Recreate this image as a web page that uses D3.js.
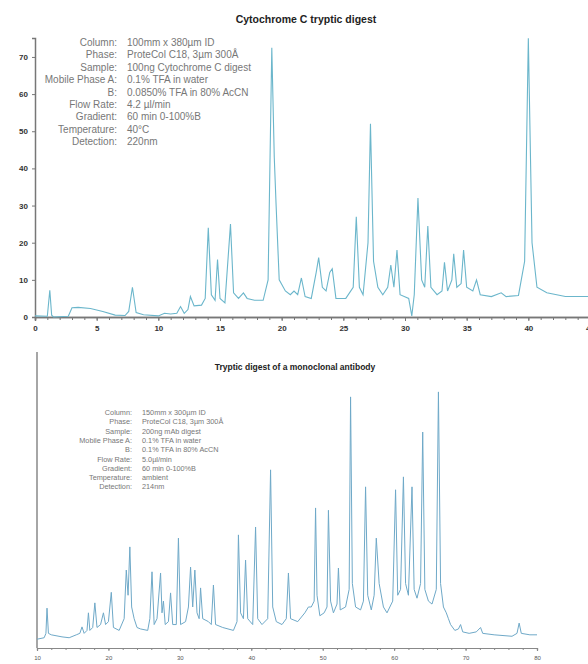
<!DOCTYPE html>
<html>
<head>
<meta charset="utf-8">
<script src="https://cdn.jsdelivr.net/npm/d3@7"></script>
<style>
  body { margin: 0; background: #fff; }
  svg { display: block; font-family: Arial, "Liberation Sans", sans-serif; }
</style>
</head>
<body>
<div id="chart"></div>
<script>
// ---- top chromatogram: Cytochrome C tryptic digest (time in min, signal) ----
const topTitle = "Cytochrome C tryptic digest";
const topTime = [0, 1.0, 1.2, 1.35, 1.5, 2.7, 3.0, 3.5, 4.5, 5.5, 6.5, 7.3, 7.6, 7.9, 8.2, 8.8, 10.0, 10.5, 11.0, 11.5,
  11.8, 12.1, 12.4, 12.6, 12.9, 13.5, 13.8, 14.05, 14.3, 14.6, 14.8, 15.0, 15.4, 15.85, 16.1, 16.5, 16.9, 17.2, 17.8, 18.5,
  18.9, 19.2, 19.4, 19.55, 19.8, 20.3, 20.7, 21.0, 21.3, 21.6, 21.9, 22.4, 22.8, 23.0, 23.3, 23.6, 23.9, 24.1, 24.4, 25.2,
  25.8, 26.05, 26.3, 26.6, 27.0, 27.2, 27.45, 27.8, 28.2, 28.6, 28.85, 29.1, 29.35, 29.6, 30.3, 30.55, 30.75, 31.05, 31.35, 31.6,
  31.85, 32.1, 32.6, 33.0, 33.2, 33.45, 33.8, 33.95, 34.2, 34.55, 34.75, 35.0, 35.5, 35.8, 36.1, 37.0, 37.8, 38.2, 39.2, 39.7,
  40.0, 40.3, 40.7, 41.5, 43.0, 45.0];
const topSignal = [0.3, 0.2, 7.2, 0.5, 0, 0.2, 2.5, 2.6, 2.3, 1.5, 0.5, 0.4, 1.5, 8.0, 1.2, 0.6, 0.3, 1.0, 0.8, 1.0,
  2.8, 1.0, 2.0, 5.5, 3.0, 3.2, 5.0, 24, 6, 4.5, 15.5, 5, 3.8, 25, 6.5, 5, 6.5, 5, 4.5, 4.5,
  10, 72.5, 43, 30, 10, 7, 6, 7, 6, 10.5, 5.5, 5, 12, 16, 8, 7, 12, 13, 5, 5,
  8, 27, 8, 6, 20, 52, 15, 8, 6, 8, 14, 8, 18, 6, 5, 0.3, 6, 32, 10, 8,
  24.5, 8, 6, 7, 14.7, 7, 10, 17, 8, 9, 18, 8, 7, 10, 6, 5.5, 6.5, 5.5, 5.8, 15,
  75, 20, 8, 6.5, 5.5, 5.5];
const topXTicks = [0, 5, 10, 15, 20, 25, 30, 35, 40, 45];
const topYTicks = [0, 10, 20, 30, 40, 50, 60, 70];
const topLabels = ["Column:", "Phase:", "Sample:", "Mobile Phase A:", "B:", "Flow Rate:", "Gradient:", "Temperature:", "Detection:"];
const topValues = ["100mm x 380µm ID", "ProteCol C18, 3µm 300Å", "100ng Cytochrome C digest", "0.1% TFA in water",
  "0.0850% TFA in 80% AcCN", "4.2 µl/min", "60 min 0-100%B", "40°C", "220nm"];

// ---- bottom chromatogram: tryptic digest of a monoclonal antibody ----
const botTitle = "Tryptic digest of a monoclonal antibody";
const botTime = [10.0, 11.0, 11.25, 11.4, 11.6, 12.0, 13.5, 14.5, 15.5, 16.0, 16.3, 16.6, 17.0, 17.2, 17.4, 17.8, 18.1, 18.4, 18.9, 19.3,
  19.6, 20.0, 20.4, 20.7, 21.5, 22.2, 22.5, 22.75, 23.0, 23.25, 23.6, 24.0, 24.5, 25.5, 25.8, 26.1, 26.4, 26.8, 27.3, 27.5,
  27.7, 27.95, 28.4, 28.7, 29.0, 29.5, 29.8, 30.1, 30.8, 31.2, 31.5, 31.8, 32.1, 32.4, 32.7, 32.9, 33.2, 34.0, 34.4, 34.7,
  35.0, 36.0, 37.5, 38.0, 38.2, 38.5, 38.9, 39.2, 39.5, 40.2, 40.6, 40.9, 41.5, 42.3, 42.7, 43.0, 43.5, 44.3, 44.9, 45.2,
  45.5, 46.5, 47.5, 48.0, 48.4, 48.8, 49.0, 49.2, 49.6, 50.2, 50.6, 50.8, 51.1, 51.5, 52.0, 52.2, 52.45, 53.2, 53.7, 53.9,
  54.15, 54.6, 55.3, 55.7, 56.0, 56.3, 56.8, 57.2, 57.5, 57.9, 58.5, 59.0, 59.8, 60.2, 60.5, 60.9, 61.3, 61.6, 62.0, 62.5,
  62.8, 63.2, 63.7, 64.0, 64.3, 64.8, 65.3, 65.9, 66.2, 66.5, 66.9, 67.3, 67.6, 67.9, 68.5, 69.0, 69.3, 69.6, 70.5, 71.5,
  72.1, 72.4, 74.0, 76.5, 77.2, 77.5, 77.8, 79.0, 80.0];
const botSignal = [3.0, 3.5, 5, 13.6, 5, 4.5, 3.8, 3.5, 4.5, 5, 7.2, 5, 6, 12, 6, 7, 15.4, 7, 8, 12,
  8, 9, 19, 7, 6, 10, 26.6, 18, 34.5, 14, 10, 7, 6.5, 6, 10, 26, 8, 10, 25.6, 12,
  16, 8, 9, 18.8, 8, 8, 37.5, 8, 9, 14, 27.6, 14, 26.6, 12, 10, 20.5, 10, 9, 8, 21.5,
  8, 7, 6, 9, 38.6, 12, 10, 30, 10, 8, 41.3, 10, 8, 10, 60.8, 14, 9, 8, 10, 25.6,
  10, 9, 12, 14, 14, 16, 47.8, 18, 11, 12, 14, 47, 16, 12, 15, 27.3, 13, 14, 20, 85.7,
  22, 14, 13, 16, 55, 18, 13, 18, 37.5, 22, 14, 12, 16, 54, 18, 20, 58.4, 22, 18, 55,
  20, 17, 22, 73.7, 20, 16, 15, 20, 87.4, 22, 14, 12, 10, 8, 6, 6.5, 8, 5.5, 5, 5.5,
  7, 5, 4.5, 4, 5, 8.5, 5, 4.5, 4.5];
const botXTicks = [10, 20, 30, 40, 50, 60, 70, 80];
const botLabels = ["Column:", "Phase:", "Sample:", "Mobile Phase A:", "B:", "Flow Rate:", "Gradient:", "Temperature:", "Detection:"];
const botValues = ["150mm x 300µm ID", "ProteCol C18, 3µm 300Å", "200ng mAb digest", "0.1% TFA in water",
  "0.1% TFA in 80% AcCN", "5.0µl/min", "60 min 0-100%B", "ambient", "214nm"];

const width = 588, height = 664;

const svg = d3.select("#chart")
  .append("svg")
    .attr("width", width)
    .attr("height", height);

// ================= top chart =================
let xTop = d3.scaleLinear().domain([0, 45]).range([35, 590]);
let yTop = d3.scaleLinear().domain([0, 75.1]).range([317, 38]);

svg.append("text")
  .attr("x", 306).attr("y", 23)
  .attr("text-anchor", "middle")
  .attr("font-size", 10.5).attr("font-weight", "bold").attr("fill", "#222")
  .text(topTitle);

let gTopX = svg.append("g")
  .attr("transform", "translate(0," + yTop(0) + ")")
  .call(d3.axisBottom(xTop).tickValues(d3.range(0, 46, 1)).tickSize(3).tickFormat(""));
gTopX.append("g")
  .call(d3.axisBottom(xTop).tickValues(topXTicks).tickSize(4).tickPadding(4));

let gTopY = svg.append("g")
  .attr("transform", "translate(" + xTop(0) + ",0)")
  .call(d3.axisLeft(yTop).tickValues(topYTicks).tickSize(3).tickPadding(4));

[gTopX, gTopY].forEach(g => {
  g.selectAll(".domain").attr("stroke", "#777").attr("stroke-width", 1.5);
  g.selectAll("line").attr("stroke", "#777");
  g.selectAll("text").attr("font-size", 8).attr("font-weight", "bold").attr("fill", "#333")
    .attr("font-family", "Arial, 'Liberation Sans', sans-serif");
});

let topPts = topTime.map((t, i) => [t, topSignal[i]]);
svg.append("path")
  .datum(topPts)
  .attr("fill", "none")
  .attr("stroke", "#6bb6cb")
  .attr("stroke-width", 1.1)
  .attr("d", d3.line().x(d => xTop(d[0])).y(d => yTop(d[1])));

let topInfo = svg.append("g").attr("font-size", 10).attr("fill", "#777");
topLabels.forEach((l, i) => {
  topInfo.append("text").attr("x", 117).attr("y", 46 + i * 12.4).attr("text-anchor", "end").text(l);
  topInfo.append("text").attr("x", 127).attr("y", 46 + i * 12.4).text(topValues[i]);
});

// ================= bottom chart =================
let xBot = d3.scaleLinear().domain([10, 80]).range([37, 537]);
let yBot = d3.scaleLinear().domain([0, 100]).range([648, 355]);

svg.append("text")
  .attr("x", 295).attr("y", 370)
  .attr("text-anchor", "middle")
  .attr("font-size", 8.5).attr("font-weight", "bold").attr("fill", "#222")
  .text(botTitle);

let gBotX = svg.append("g")
  .attr("transform", "translate(0," + yBot(0) + ")")
  .call(d3.axisBottom(xBot).tickValues(d3.range(10, 81, 2)).tickSize(2).tickFormat(""));
gBotX.append("g")
  .call(d3.axisBottom(xBot).tickValues(botXTicks).tickSize(3).tickPadding(5));

svg.append("line")
  .attr("x1", xBot(10)).attr("x2", xBot(10))
  .attr("y1", yBot(0)).attr("y2", yBot(101))
  .attr("stroke", "#888").attr("stroke-width", 1.5);

gBotX.selectAll(".domain").attr("stroke", "#888").attr("stroke-width", 1.2);
gBotX.selectAll("line").attr("stroke", "#888");
gBotX.selectAll("text").attr("font-size", 6).attr("fill", "#555")
  .attr("font-family", "Arial, 'Liberation Sans', sans-serif");

let botPts = botTime.map((t, i) => [t, botSignal[i]]);
svg.append("path")
  .datum(botPts)
  .attr("fill", "none")
  .attr("stroke", "#6fa9c8")
  .attr("stroke-width", 1)
  .attr("d", d3.line().x(d => xBot(d[0])).y(d => yBot(d[1])));

let botInfo = svg.append("g").attr("font-size", 7.3).attr("fill", "#777");
botLabels.forEach((l, i) => {
  botInfo.append("text").attr("x", 132).attr("y", 415 + i * 9.3).attr("text-anchor", "end").text(l);
  botInfo.append("text").attr("x", 142).attr("y", 415 + i * 9.3).text(botValues[i]);
});
</script>
</body>
</html>
